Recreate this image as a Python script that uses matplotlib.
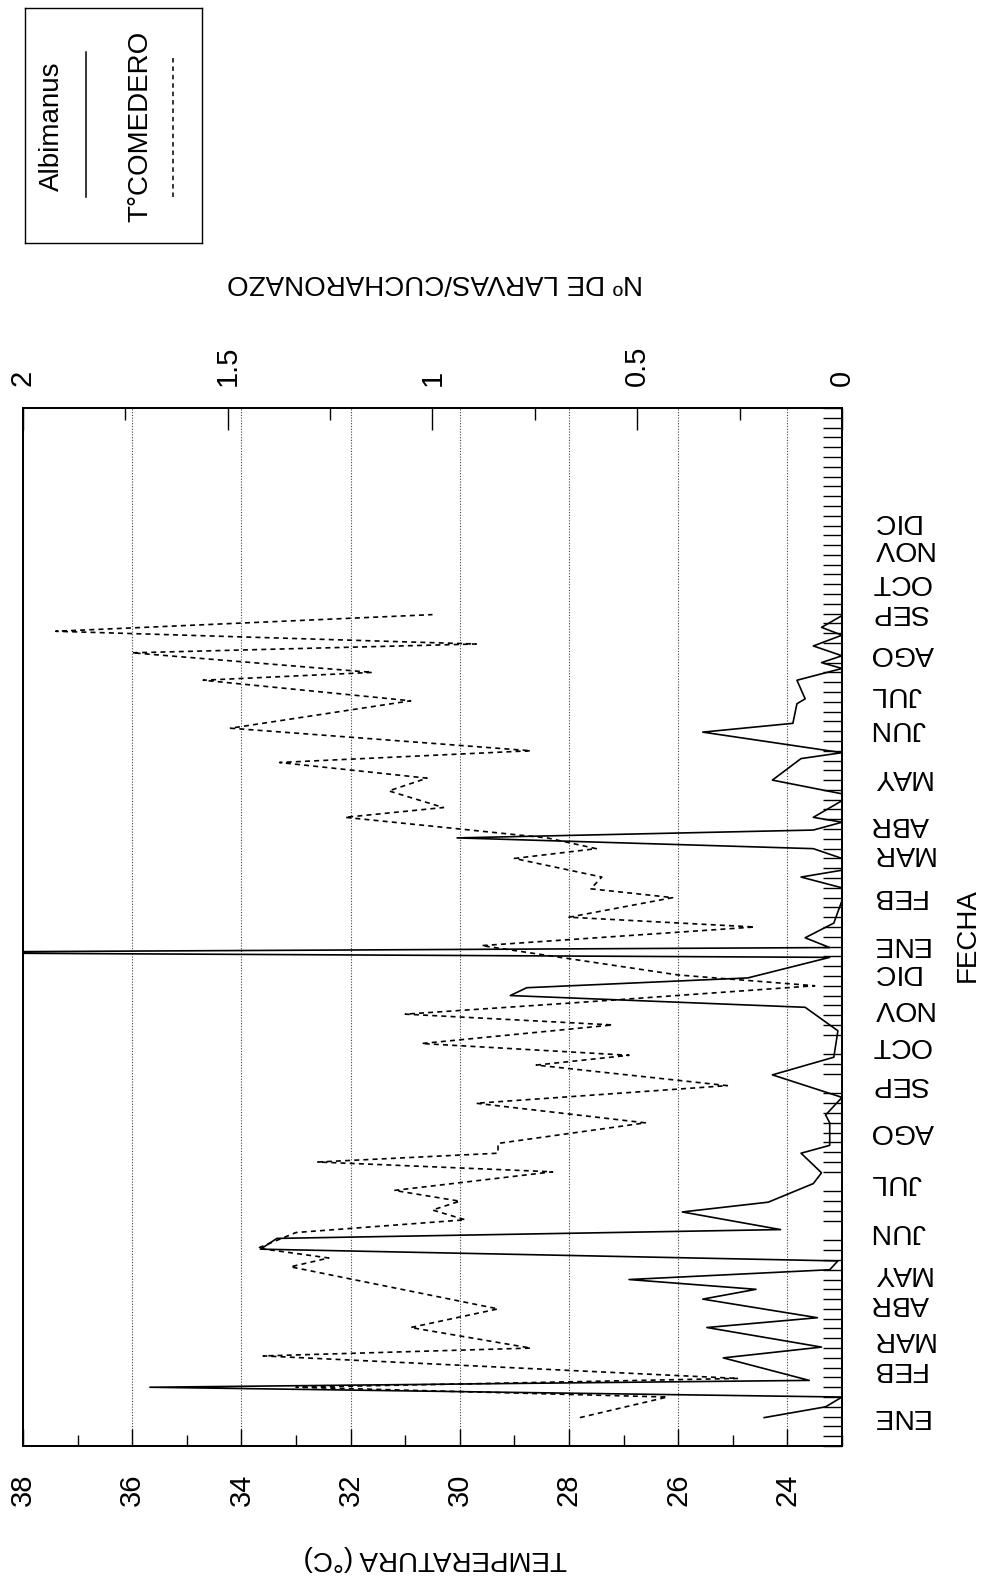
import matplotlib
matplotlib.use('Agg')
import matplotlib.pyplot as plt
from matplotlib.ticker import MultipleLocator, FormatStrFormatter

plt.rc('font', family='Liberation Sans')

# Temperatura del comedero (semana de muestreo, grados C)
semana_temp = [2.9, 5.0, 6.0, 6.9, 9.2, 10.0, 12.1, 14.0, 18.3, 19.2,
               20.2, 21.8, 23.1, 24.1, 25.0, 26.1, 28.0, 29.0, 29.9, 30.9,
               33.0, 35.0, 36.8, 38.9, 39.9, 41.1, 43.0, 44.1, 45.3, 47.0,
               48.1, 51.1, 53.0, 54.0, 56.0, 56.9, 58.1, 60.0, 61.0, 62.1,
               64.2, 65.2, 66.9, 68.2, 69.8, 71.0, 73.3, 76.1, 78.2, 79.0,
               81.0, 81.9, 83.2, 84.9]
temp_comedero = [27.8, 26.2, 33.0, 24.9, 33.6, 28.7, 30.9, 29.3, 33.1, 32.4,
                 33.7, 33.0, 29.9, 30.5, 30.0, 31.2, 28.3, 32.6, 29.3, 29.3,
                 26.6, 29.7, 25.1, 28.6, 26.9, 30.7, 27.2, 31.0, 27.8, 23.5,
                 26.0, 29.6, 24.6, 28.0, 26.1, 27.6, 27.4, 29.0, 27.5, 28.4,
                 32.1, 30.3, 31.3, 30.6, 33.3, 28.7, 34.2, 30.9, 34.7, 31.6,
                 36.0, 29.7, 37.4, 30.5]

# Albimanus: larvas por cucharonazo
semana_larvas = [2.9, 4.0, 5.0, 6.0, 6.7, 9.0, 10.1, 12.1, 13.1, 15.0,
                 16.0, 17.0, 18.0, 18.9, 20.1, 21.2, 22.1, 23.9, 24.9, 26.8,
                 27.9, 29.9, 30.7, 33.0, 33.8, 35.6, 37.9, 39.7, 42.4, 44.8,
                 46.0, 46.8, 47.8, 49.9, 50.4, 50.9, 51.9, 53.4, 55.7, 57.0,
                 58.1, 58.8, 60.0, 61.0, 62.1, 62.9, 63.7, 64.2, 65.9, 66.6,
                 68.0, 70.2, 70.8, 72.9, 73.8, 75.8, 76.3, 78.2, 79.4, 80.0,
                 80.7, 81.7, 82.8, 83.6, 84.8]
larvas = [0.19, 0.04, 0.00, 1.69, 0.08, 0.29, 0.05, 0.33, 0.06, 0.34,
          0.21, 0.52, 0.03, 0.01, 1.42, 1.38, 0.15, 0.39, 0.18, 0.07,
          0.05, 0.10, 0.03, 0.03, 0.04, 0.00, 0.17, 0.02, 0.01, 0.09,
          0.81, 0.77, 0.23, 0.03, 2.40, 0.03, 0.09, 0.02, 0.00, 0.00,
          0.10, 0.00, 0.00, 0.07, 0.94, 0.07, 0.00, 0.07, 0.00, 0.00,
          0.17, 0.10, 0.00, 0.34, 0.12, 0.11, 0.09, 0.11, 0.00, 0.05,
          0.00, 0.07, 0.00, 0.05, 0.00]

meses = ['ENE', 'FEB', 'MAR', 'ABR', 'MAY', 'JUN', 'JUL', 'AGO', 'SEP', 'OCT', 'NOV', 'DIC'] * 2
semana_meses = [3.1, 7.9, 10.9, 14.6, 17.7, 22.0, 27.0, 32.2, 37.0, 41.0, 44.7, 48.4,
                51.3, 56.2, 60.6, 63.5, 68.3, 73.3, 76.8, 81.0, 85.2, 88.2, 91.7, 94.5]

W, H = 997, 1585
DASH = (0, (3, 2.5))


def fx(px):
    return px / W


def fy(py):
    return 1 - py / H


fig = plt.figure(figsize=(W / 100, H / 100), dpi=100)

# the whole graph is laid out turned a quarter: date runs upwards,
# temperature along the bottom and larvae along the top
ax = fig.add_axes([fx(23), fy(1446), (842 - 23) / W, (1446 - 408) / H])
ax.plot(temp_comedero, semana_temp, color='black', ls=DASH, lw=1.2)
ax.set_xlim(38, 23)
ax.set_ylim(0, 106)

ax.xaxis.set_major_locator(MultipleLocator(2))
ax.xaxis.set_minor_locator(MultipleLocator(1))
ax.xaxis.set_major_formatter(FormatStrFormatter('%d'))
ax.tick_params(axis='x', which='major', direction='in', length=12, width=1,
               labelsize=21, labelrotation=90, pad=20)
ax.tick_params(axis='x', which='minor', direction='in', length=8, width=1)
ax.grid(axis='x', which='major', ls=(0, (1, 1.5)), color='0.25', lw=0.8)

ax.set_yticks(semana_meses, labels=meses)
ax.yaxis.set_minor_locator(MultipleLocator(1))
ax.tick_params(axis='y', which='major', left=False, right=False,
               labelleft=False, labelright=True, labelrotation=180,
               labelsize=20.5, pad=17)
ax.tick_params(axis='y', which='minor', left=False, right=True,
               direction='in', length=14, width=1)
for lbl in ax.get_yticklabels():
    lbl.set_va('center')

ax2 = ax.twiny()
ax2.plot(larvas, semana_larvas, color='black', lw=1.2)
ax2.set_xlim(2, 0)
ax2.xaxis.set_major_locator(MultipleLocator(0.5))
ax2.xaxis.set_minor_locator(MultipleLocator(0.25))
ax2.xaxis.set_major_formatter(FormatStrFormatter('%g'))
ax2.tick_params(axis='x', which='major', direction='in', length=16, width=1,
                labelsize=21, labelrotation=90, pad=16)
ax2.tick_params(axis='x', which='minor', direction='in', length=8.5, width=1)

for a in (ax, ax2):
    for sp in a.spines.values():
        sp.set_linewidth(1.3)

fig.text(fx(435), fy(282), 'Nº DE LARVAS/CUCHARONAZO', rotation=180,
         ha='center', va='center', size=20)
fig.text(fx(435), fy(1558), 'TEMPERATURA (°C)', rotation=180,
         ha='center', va='center', size=20)
fig.text(fx(968), fy(935), 'FECHA', rotation=90,
         ha='center', va='center', size=20)

# legend box, also turned
lax = fig.add_axes([fx(25), fy(243), (202 - 25) / W, (243 - 8) / H])
lax.set_xlim(25, 202)
lax.set_ylim(243, 8)
lax.set_xticks([])
lax.set_yticks([])
for sp in lax.spines.values():
    sp.set_linewidth(1.0)
lax.plot([86, 86], [52, 197], color='black', lw=1.1)
lax.plot([173, 173], [58, 197], color='black', ls=DASH, lw=1.1)
lax.text(52, 126, 'Albimanus', rotation=90, ha='center', va='center', size=20)
lax.text(140, 126, 'T°COMEDERO', rotation=90, ha='center', va='center', size=20)

fig.savefig('out.png', dpi=100)
